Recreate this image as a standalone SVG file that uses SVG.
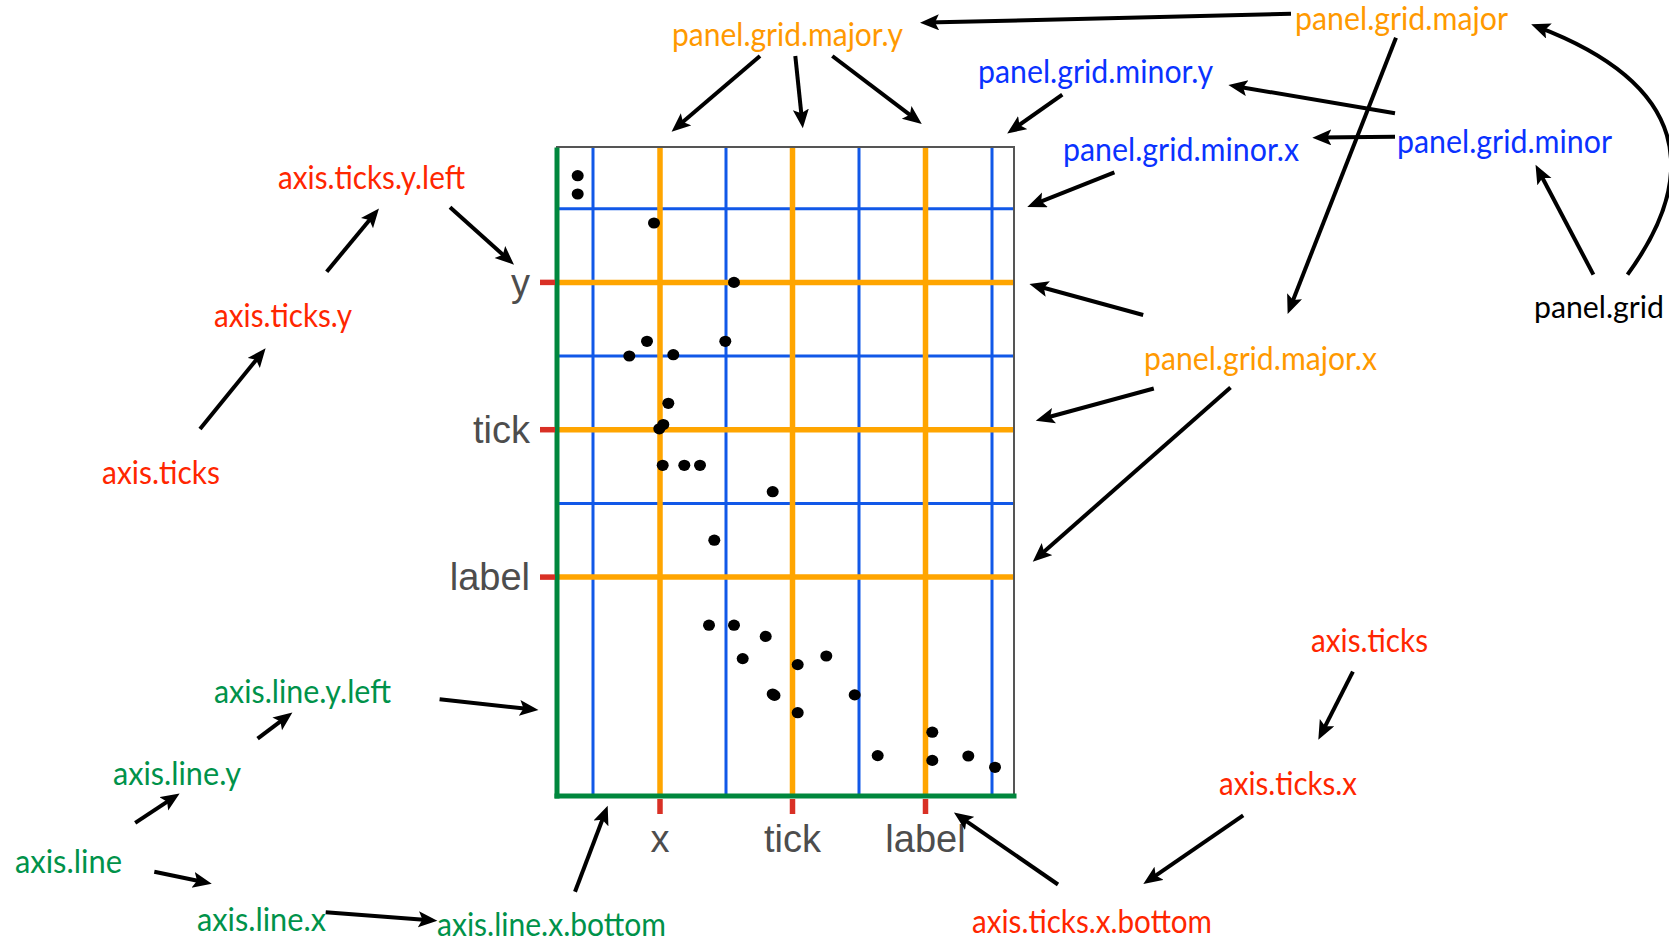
<svg xmlns="http://www.w3.org/2000/svg" width="1669" height="940" viewBox="0 0 1669 940">
<defs>
<style>
.lbl{font-family:Lato,"Open Sans","Liberation Sans",sans-serif;font-size:33px}
.red{fill:#ff2600}.org{fill:#ff9900}.blu{fill:#0a32ff}.grn{fill:#00924a}.blk{fill:#000}
.tk{font-family:"Liberation Sans",Arial,sans-serif;font-size:38px;fill:#4d4d4d}
.minor{stroke:#1158e8;stroke-width:3}
.major{stroke:#ffa500;stroke-width:5.5}
.tick{stroke:#d93025;stroke-width:5.5}
.axis{stroke:#00873d;stroke-width:5;stroke-linecap:square}
.arr{stroke:#000;stroke-width:4;fill:none;marker-end:url(#ah)}
</style>
<marker id="ah" markerUnits="userSpaceOnUse" markerWidth="22" markerHeight="17" refX="12" refY="8" orient="auto">
<path d="M0,0 L19,8 L0,16 L4,8 z" fill="#000"/>
</marker>
</defs>
<rect width="1669" height="940" fill="#fff"/>

<g id="plot">
<rect x="557" y="147" width="457" height="649" fill="#fff" stroke="#555" stroke-width="2"/>
<g id="minor-grid">
<line class="minor" x1="557" y1="208.7" x2="1014" y2="208.7"/>
<line class="minor" x1="557" y1="356" x2="1014" y2="356"/>
<line class="minor" x1="557" y1="503.4" x2="1014" y2="503.4"/>
<line class="minor" x1="593" y1="147" x2="593" y2="796"/>
<line class="minor" x1="726" y1="147" x2="726" y2="796"/>
<line class="minor" x1="859" y1="147" x2="859" y2="796"/>
<line class="minor" x1="992" y1="147" x2="992" y2="796"/>
</g>
<g id="major-grid">
<line class="major" x1="557" y1="282.4" x2="1014" y2="282.4"/>
<line class="major" x1="557" y1="429.7" x2="1014" y2="429.7"/>
<line class="major" x1="557" y1="577.1" x2="1014" y2="577.1"/>
<line class="major" x1="660" y1="147" x2="660" y2="796"/>
<line class="major" x1="792.5" y1="147" x2="792.5" y2="796"/>
<line class="major" x1="925.5" y1="147" x2="925.5" y2="796"/>
</g>
<line x1="1014" y1="147" x2="1014" y2="796" stroke="#555" stroke-width="2"/>
<line x1="557" y1="147" x2="1014" y2="147" stroke="#555" stroke-width="2"/>
<g id="axis-lines">
<line class="axis" x1="557" y1="150" x2="557" y2="796"/>
<line class="axis" x1="557" y1="796" x2="1014" y2="796"/>
</g>
<g id="ticks">
<line class="tick" x1="540" y1="282.4" x2="555" y2="282.4"/>
<line class="tick" x1="540" y1="429.7" x2="555" y2="429.7"/>
<line class="tick" x1="540" y1="577.1" x2="555" y2="577.1"/>
<line class="tick" x1="660" y1="799" x2="660" y2="814"/>
<line class="tick" x1="792.5" y1="799" x2="792.5" y2="814"/>
<line class="tick" x1="925.5" y1="799" x2="925.5" y2="814"/>
</g>
<g id="tick-labels">
<text class="tk" x="530" y="296" text-anchor="end">y</text>
<text class="tk" x="530" y="443" text-anchor="end">tick</text>
<text class="tk" x="530" y="590" text-anchor="end">label</text>
<text class="tk" x="660" y="852" text-anchor="middle">x</text>
<text class="tk" x="792.5" y="852" text-anchor="middle">tick</text>
<text class="tk" x="925.5" y="852" text-anchor="middle">label</text>
</g>
<g id="points" fill="#000">
<ellipse cx="577.7" cy="175.7" rx="6" ry="5.6"/>
<ellipse cx="577.7" cy="194" rx="6" ry="5.6"/>
<ellipse cx="654" cy="223" rx="6" ry="5.6"/>
<ellipse cx="734" cy="282.4" rx="6" ry="5.6"/>
<ellipse cx="647" cy="341.3" rx="6" ry="5.6"/>
<ellipse cx="629.3" cy="356" rx="6" ry="5.6"/>
<ellipse cx="673.3" cy="354.7" rx="6" ry="5.6"/>
<ellipse cx="725.3" cy="341.3" rx="6" ry="5.6"/>
<ellipse cx="668.3" cy="403.3" rx="6" ry="5.6"/>
<ellipse cx="659.3" cy="428.8" rx="6" ry="5.6"/>
<ellipse cx="663.3" cy="424.5" rx="6" ry="5.6"/>
<ellipse cx="662.7" cy="465.3" rx="6" ry="5.6"/>
<ellipse cx="684.3" cy="465.3" rx="6" ry="5.6"/>
<ellipse cx="700" cy="465.3" rx="6" ry="5.6"/>
<ellipse cx="772.7" cy="491.7" rx="6" ry="5.6"/>
<ellipse cx="714.3" cy="540.2" rx="6" ry="5.6"/>
<ellipse cx="709" cy="625.2" rx="6" ry="5.6"/>
<ellipse cx="734" cy="625.2" rx="6" ry="5.6"/>
<ellipse cx="765.7" cy="636.4" rx="6" ry="5.6"/>
<ellipse cx="742.7" cy="658.6" rx="6" ry="5.6"/>
<ellipse cx="797.7" cy="664.6" rx="6" ry="5.6"/>
<ellipse cx="826.3" cy="656" rx="6" ry="5.6"/>
<ellipse cx="772.7" cy="694" rx="6" ry="5.6"/>
<ellipse cx="774.5" cy="695.4" rx="6" ry="5.6"/>
<ellipse cx="854.7" cy="694.9" rx="6" ry="5.6"/>
<ellipse cx="797.7" cy="712.7" rx="6" ry="5.6"/>
<ellipse cx="932.3" cy="732.2" rx="6" ry="5.6"/>
<ellipse cx="877.7" cy="755.6" rx="6" ry="5.6"/>
<ellipse cx="932.3" cy="760.4" rx="6" ry="5.6"/>
<ellipse cx="968.3" cy="756" rx="6" ry="5.6"/>
<ellipse cx="995" cy="767.3" rx="6" ry="5.6"/>
</g>
</g>

<g id="connectors">
<path class="arr" d="M1291,13.8 L927,22.6"/>
<path class="arr" d="M760,56 L676.9,127.1"/>
<path class="arr" d="M795.3,56 L802.1,121.3"/>
<path class="arr" d="M832.3,56 L916.2,119.7"/>
<path class="arr" d="M1062.3,94.7 L1012.9,129.5"/>
<path class="arr" d="M1395,113.3 L1235.3,86.2"/>
<path class="arr" d="M1395,136.7 L1319.3,137.6"/>
<path class="arr" d="M1114.4,172.4 L1033.8,204.3"/>
<path class="arr" d="M1396,37.7 L1290.2,307.4"/>
<path class="arr" d="M1143.2,315 L1036.2,285.8"/>
<path class="arr" d="M1153.8,388.5 L1042.5,418.8"/>
<path class="arr" d="M1230.5,387.4 L1038,557"/>
<path class="arr" d="M1593.4,274.6 L1538.8,171"/>
<path class="arr" d="M1627.5,274.6 C1700,175 1690,85 1537.7,26.8"/>
<path class="arr" d="M200,429 L261.2,353.7"/>
<path class="arr" d="M326.7,271.7 L374.5,213.9"/>
<path class="arr" d="M450,207.3 L508.8,260"/>
<path class="arr" d="M1352.9,671.6 L1321.5,733.4"/>
<path class="arr" d="M1243.2,815.3 L1149.1,880.1"/>
<path class="arr" d="M1058,884.5 L959.7,816.6"/>
<path class="arr" d="M439.6,699.3 L531.5,709.3"/>
<path class="arr" d="M257.6,738.7 L286.8,716.7"/>
<path class="arr" d="M135.2,822.8 L173.8,797.3"/>
<path class="arr" d="M154.3,871.7 L204.9,882.3"/>
<path class="arr" d="M325.7,912.2 L430.4,920.2"/>
<path class="arr" d="M575,891.7 L605.2,812.3"/>
</g>

<g id="panel.grid.major.y"><text class="lbl org" x="672" y="46" textLength="231" lengthAdjust="spacingAndGlyphs">panel.grid.major.y</text></g>
<g id="panel.grid.major"><text class="lbl org" x="1295" y="30" textLength="213" lengthAdjust="spacingAndGlyphs">panel.grid.major</text></g>
<g id="panel.grid.minor.y"><text class="lbl blu" x="978" y="83" textLength="235" lengthAdjust="spacingAndGlyphs">panel.grid.minor.y</text></g>
<g id="panel.grid.minor.x"><text class="lbl blu" x="1063" y="161" textLength="236" lengthAdjust="spacingAndGlyphs">panel.grid.minor.x</text></g>
<g id="panel.grid.minor"><text class="lbl blu" x="1397" y="153" textLength="215" lengthAdjust="spacingAndGlyphs">panel.grid.minor</text></g>
<g id="panel.grid"><text class="lbl blk" x="1534" y="318" style="font-size:31px" textLength="130" lengthAdjust="spacingAndGlyphs">panel.grid</text></g>
<g id="panel.grid.major.x"><text class="lbl org" x="1144" y="370" textLength="233" lengthAdjust="spacingAndGlyphs">panel.grid.major.x</text></g>
<g id="axis.ticks.y.left"><text class="lbl red" x="278" y="189" textLength="187" lengthAdjust="spacingAndGlyphs">axis.ticks.y.left</text></g>
<g id="axis.ticks.y"><text class="lbl red" x="214" y="327" textLength="138" lengthAdjust="spacingAndGlyphs">axis.ticks.y</text></g>
<g id="axis.ticks-left"><text class="lbl red" x="102" y="484" textLength="118" lengthAdjust="spacingAndGlyphs">axis.ticks</text></g>
<g id="axis.ticks-right"><text class="lbl red" x="1311" y="652" textLength="117" lengthAdjust="spacingAndGlyphs">axis.ticks</text></g>
<g id="axis.ticks.x"><text class="lbl red" x="1219" y="795" textLength="138" lengthAdjust="spacingAndGlyphs">axis.ticks.x</text></g>
<g id="axis.ticks.x.bottom"><text class="lbl red" x="972" y="933" textLength="240" lengthAdjust="spacingAndGlyphs">axis.ticks.x.bottom</text></g>
<g id="axis.line.y.left"><text class="lbl grn" x="214" y="703" textLength="177" lengthAdjust="spacingAndGlyphs">axis.line.y.left</text></g>
<g id="axis.line.y"><text class="lbl grn" x="113" y="785" textLength="128" lengthAdjust="spacingAndGlyphs">axis.line.y</text></g>
<g id="axis.line"><text class="lbl grn" x="15" y="873" textLength="107" lengthAdjust="spacingAndGlyphs">axis.line</text></g>
<g id="axis.line.x"><text class="lbl grn" x="197" y="931" textLength="129" lengthAdjust="spacingAndGlyphs">axis.line.x</text></g>
<g id="axis.line.x.bottom"><text class="lbl grn" x="437" y="936" textLength="229" lengthAdjust="spacingAndGlyphs">axis.line.x.bottom</text></g>
</svg>
